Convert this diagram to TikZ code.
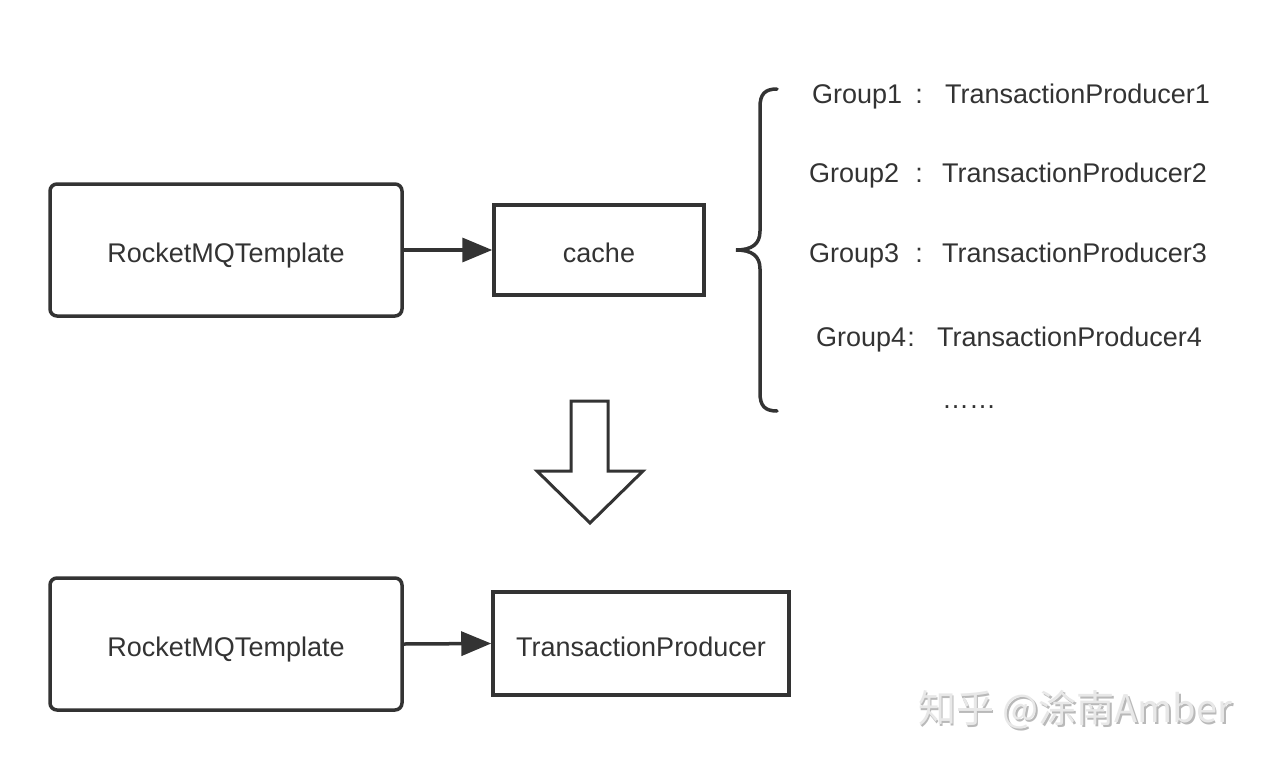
\documentclass[tikz,border=0pt]{standalone}
\usepackage{fontspec}
\setmainfont{Liberation Sans}
\newfontfamily\cjkfont{Noto Sans CJK SC}
\usetikzlibrary{arrows.meta}
\definecolor{ink}{HTML}{333333}
\tikzset{
  txt/.style={text=ink, font=\fontsize{27}{32}\selectfont, text height=25pt, text depth=0pt},
  box/.style={draw=ink, line width=3.5pt, txt, inner sep=0pt},
  rbox/.style={box, rounded corners=7pt},
  arr/.style={draw=ink, line width=3.5pt, -{Triangle[length=30pt,width=24pt]}},
  lbl/.style={txt, inner sep=0pt},
  wm/.style={font=\cjkfont\fontsize{38}{42}\selectfont, inner sep=0pt, anchor=west}
}
\begin{document}
\begin{tikzpicture}[x=1pt,y=-1pt]
\useasboundingbox (0,0) rectangle (1268,760);
\fill[white] (0,0) rectangle (1268,760);
% top row
\node[rbox, minimum width=352pt, minimum height=132pt] (rt1) at (226,250) {RocketMQTemplate};
\node[box, minimum width=210pt, minimum height=90pt] (cache) at (599,250) {cache};
\draw[arr] (rt1.east) -- (cache.west);
% brace
\draw[ink, line width=3.5pt, line cap=round] (777,89) .. controls (765,89) and (760,94) .. (760,107) -- (760,231)
  .. controls (760,244) and (752,250) .. (736,250)
  .. controls (752,250) and (760,256) .. (760,269) -- (760,393)
  .. controls (760,406) and (765,411) .. (777,411);
% groups
\node[lbl, anchor=west] (g1) at (812,91) {Group1};
\node[lbl] (c1) at (919,91) {:};
\node[lbl, anchor=west] (p1) at (945,91) {TransactionProducer1};
\node[lbl, anchor=west] (g2) at (809,170) {Group2};
\node[lbl] (c2) at (919,170) {:};
\node[lbl, anchor=west] (p2) at (942,170) {TransactionProducer2};
\node[lbl, anchor=west] (g3) at (809,250) {Group3};
\node[lbl] (c3) at (919,250) {:};
\node[lbl, anchor=west] (p3) at (942,250) {TransactionProducer3};
\node[lbl, anchor=west] (g4) at (816,334) {Group4};
\node[lbl] (c4) at (911,334) {:};
\node[lbl, anchor=west] (p4) at (937,334) {TransactionProducer4};
\node[lbl] (dots) at (969,396) {……};
% big down arrow
\draw[ink, line width=3pt, fill=white, line join=miter] (571,401) -- (608,401) -- (608,471) -- (643,471) -- (590,523) -- (537,471) -- (571,471) -- cycle;
% bottom row
\node[rbox, minimum width=352pt, minimum height=132pt] (rt2) at (226,644) {RocketMQTemplate};
\node[box, minimum width=296pt, minimum height=103pt] (tp) at (641,643.5) {TransactionProducer};
\draw[arr] (rt2.east) -- (tp.west);
% watermark
\node[wm, text=gray!55] (wms) at (919.5,711.5) {知乎 @涂南Amber};
\node[wm, text=gray!18] (wmt) at (918,710) {知乎 @涂南Amber};
\end{tikzpicture}
\end{document}
